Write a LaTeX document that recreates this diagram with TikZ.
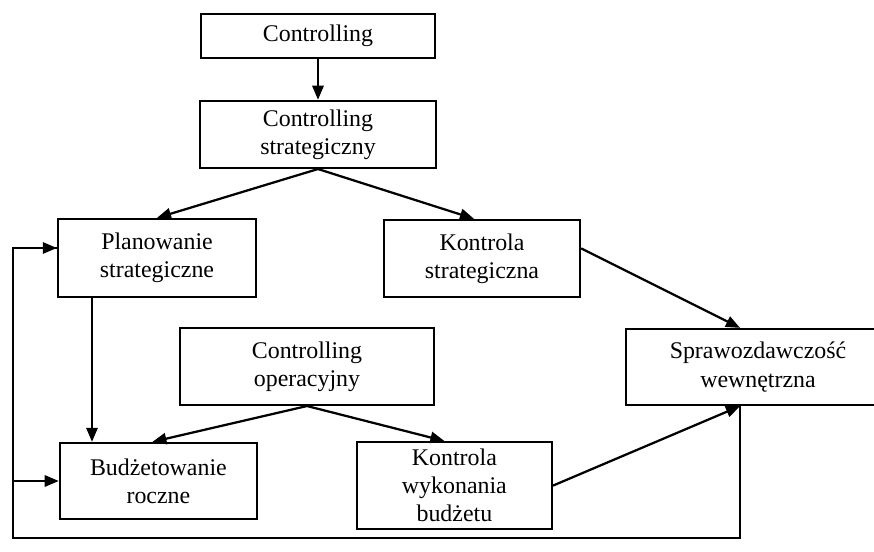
\documentclass[tikz,border=0pt]{standalone}
\usepackage{fontspec}
\setmainfont{Liberation Serif}
\usepackage{tikz}
\usetikzlibrary{arrows.meta, positioning, calc}

\begin{document}
\begin{tikzpicture}[
    box/.style={rectangle, draw, line width=1.6pt, fill=white, align=center, inner sep=2pt, font=\fontsize{17pt}{20pt}\selectfont},
    arrow/.style={-{Triangle[length=10pt, width=8pt]}, line width=1.6pt},
    line/.style={line width=1.6pt}
]
    \useasboundingbox (0,0) rectangle (21.85,13.8);
    \clip (0,0) rectangle (21.85,13.8);

    % Strategic level
    \node[box, minimum width=5.85cm, minimum height=1.1cm] (ctrl) at (7.95, 12.9) {Controlling};
    \node[box, minimum width=5.9cm, minimum height=1.675cm] (cstrat) at (7.95, 10.44) {Controlling\\strategiczny};
    \node[box, minimum width=4.95cm, minimum height=1.95cm] (plan) at (3.925, 7.35) {Planowanie\\strategiczne};
    \node[box, minimum width=4.9cm, minimum height=1.925cm] (kstrat) at (12.05, 7.34) {Kontrola\\strategiczna};

    % Operational level
    \node[box, minimum width=6.35cm, minimum height=1.925cm] (coper) at (7.675, 4.64) {Controlling\\operacyjny};
    \node[box, minimum width=6.6cm, minimum height=1.9cm] (spraw) at (18.95, 4.625) {Sprawozdawczość\\wewnętrzna};
    \node[box, minimum width=4.925cm, minimum height=1.9cm] (budz) at (3.96, 1.775) {Budżetowanie\\roczne};
    \node[box, minimum width=4.875cm, minimum height=2.175cm] (kwyk) at (11.36, 1.66) {Kontrola\\wykonania\\budżetu};

    \coordinate (sprtop) at ([xshift=-0.45cm]spraw.north);
    \coordinate (sprbot) at ([xshift=-0.45cm]spraw.south);
    \coordinate (corner) at (0.325, 0.35);

    \draw[arrow] (ctrl.south) -- (cstrat.north);
    \draw[arrow] (cstrat.south) -- (plan.north);
    \draw[arrow] (cstrat.south) -- ([xshift=-0.2cm]kstrat.north);
    \draw[arrow] ([yshift=0.25cm]kstrat.east) -- (sprtop);
    \draw[arrow] ([xshift=-1.625cm]plan.south) -- ([xshift=-1.625cm]plan.south |- budz.north);
    \draw[arrow] (coper.south) -- ([xshift=-0.15cm]budz.north);
    \draw[arrow] (coper.south) -- ([xshift=-0.25cm]kwyk.north);
    \draw[arrow] (kwyk.east) -- (sprbot);

    % Feedback loop
    \draw[line] (sprbot) |- (corner) |- ([yshift=0.25cm]plan.west);
    \draw[arrow] (corner |- plan.west) ++(0,0.25) -- ([yshift=0.25cm]plan.west);
    \draw[arrow] (corner |- budz.west) -- (budz.west);

\end{tikzpicture}
\end{document}
